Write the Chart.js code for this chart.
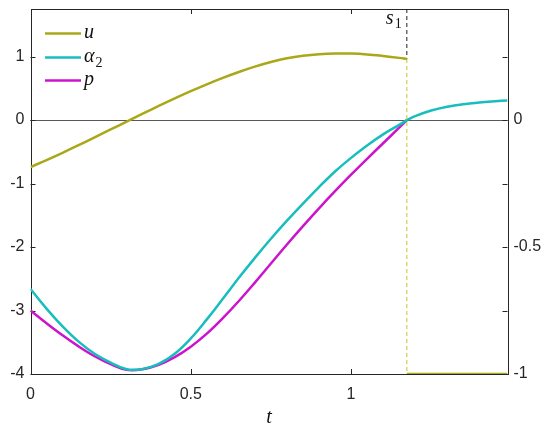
<!DOCTYPE html>
<html>
<head>
<meta charset="utf-8">
<script src="https://cdn.jsdelivr.net/npm/chart.js@4"></script>
<style>
  html, body { margin: 0; padding: 0; background: #fff; }
  #wrap { width: 550px; height: 428px; position: relative; }
</style>
</head>
<body>
<div id="wrap"><canvas id="chart"></canvas></div>
<script>
// time grid before the switch point s1
const s1 = 1.174;
const tEnd = 1.488;
const tBefore = [0, 0.05, 0.1, 0.15, 0.2, 0.25, 0.3, 0.35, 0.4, 0.45, 0.5, 0.55, 0.6,
  0.65, 0.7, 0.75, 0.8, 0.85, 0.9, 0.95, 1.0, 1.05, 1.1, 1.15, s1];
const uValues = [-0.74, -0.63, -0.515, -0.395, -0.272, -0.148, -0.023, 0.101, 0.223, 0.342, 0.456, 0.564, 0.665,
  0.758, 0.842, 0.914, 0.973, 1.013, 1.038, 1.05, 1.048, 1.035, 1.01, 0.98, 0.962];
const alphaValues = [-2.66, -2.97, -3.25, -3.49, -3.68, -3.82, -3.925, -3.92, -3.84, -3.68, -3.44, -3.14, -2.815,
  -2.485, -2.17, -1.87, -1.585, -1.315, -1.055, -0.81, -0.595, -0.40, -0.225, -0.075, 0];
const pValues = [-3.00, -3.20, -3.39, -3.565, -3.72, -3.845, -3.935, -3.925, -3.855, -3.735, -3.57, -3.365, -3.12,
  -2.85, -2.56, -2.26, -1.96, -1.67, -1.39, -1.12, -0.86, -0.61, -0.365, -0.12, 0];

// after s1
const tAfter = [s1, 1.2, 1.25, 1.3, 1.35, 1.4, 1.45, tEnd];
const alphaAfter = [0, 0.062, 0.15, 0.21, 0.25, 0.277, 0.297, 0.31];
const uAfterT = [s1, tEnd];
const uAfter = [-4, -4];

// axes
const leftMin = -4, leftMax = 1.75;
const rightMin = -1, rightMax = 0.4375;
const leftTicks = [-4, -3, -2, -1, 0, 1];
const rightTicks = [-1, -0.75, -0.5, -0.25, 0, 0.25];
const rightLabels = [-1, -0.5, 0];
const xTicks = [0, 0.5, 1];

const OLIVE = '#aaa818';
const CYAN = '#18bebe';
const MAGENTA = '#cc14cc';
const DASH_OLIVE = '#c8c42a';

const pts = (xs, ys) => xs.map((x, i) => ({ x, y: ys[i] }));
const uAtS1 = uValues[uValues.length - 1];

const datasets = [
  { label: 'u', data: pts(tBefore, uValues), borderColor: OLIVE, borderWidth: 2.5, tension: 0.4 },
  { label: 'u2', data: pts(uAfterT, uAfter), borderColor: OLIVE, borderWidth: 2.5 },
  { label: 'jump', data: pts([s1, s1], [uAtS1, leftMin]), borderColor: DASH_OLIVE, borderWidth: 1, borderDash: [4, 3] },
  { label: 's1', data: pts([s1, s1], [leftMax, uAtS1]), borderColor: '#222', borderWidth: 1, borderDash: [4, 3] },
  { label: 'alpha', data: pts(tBefore, alphaValues), borderColor: CYAN, borderWidth: 2.5, tension: 0.4 },
  { label: 'alpha2', data: pts(tAfter, alphaAfter), borderColor: CYAN, borderWidth: 2.5, tension: 0.4 },
  { label: 'p', data: pts(tBefore, pValues), borderColor: MAGENTA, borderWidth: 2.5, tension: 0.4 },
].map(d => Object.assign({ pointRadius: 0, fill: false, yAxisID: 'y' }, d));

const SANS = '"Liberation Sans", Arial, sans-serif';
const SERIF = '"Liberation Serif", "Times New Roman", serif';
const AXIS_COLOR = '#262626';

const framePlugin = {
  id: 'frame',
  beforeDatasetsDraw(chart) {
    const { ctx, chartArea: a, scales } = chart;
    ctx.save();
    // zero line
    const y0 = Math.round(scales.y.getPixelForValue(0)) + 0.5;
    ctx.strokeStyle = '#585858';
    ctx.lineWidth = 1.2;
    ctx.beginPath();
    ctx.moveTo(a.left, y0);
    ctx.lineTo(a.right, y0);
    ctx.stroke();
    // box
    ctx.lineWidth = 1;
    ctx.strokeStyle = AXIS_COLOR;
    ctx.strokeRect(Math.round(a.left) + 0.5, Math.round(a.top) + 0.5,
      Math.round(a.right - a.left), Math.round(a.bottom - a.top));
    // inward ticks
    const L = 5;
    ctx.beginPath();
    leftTicks.forEach(v => {
      const y = Math.round(scales.y.getPixelForValue(v)) + 0.5;
      ctx.moveTo(a.left, y); ctx.lineTo(a.left + L, y);
    });
    rightTicks.forEach(v => {
      const y = Math.round(scales.y2.getPixelForValue(v)) + 0.5;
      ctx.moveTo(a.right, y); ctx.lineTo(a.right - L, y);
    });
    xTicks.forEach(v => {
      const x = Math.round(scales.x.getPixelForValue(v)) + 0.5;
      ctx.moveTo(x, a.bottom); ctx.lineTo(x, a.bottom - L);
      ctx.moveTo(x, a.top); ctx.lineTo(x, a.top + L);
    });
    ctx.stroke();
    ctx.restore();
  },
  afterDraw(chart) {
    const { ctx, chartArea: a, scales } = chart;
    ctx.save();
    // legend
    const items = [
      { c: OLIVE, main: 'u', sub: '' },
      { c: CYAN, main: 'α', sub: '2' },
      { c: MAGENTA, main: 'p', sub: '' },
    ];
    const rows = [33.5, 57.5, 80.5];
    items.forEach((it, i) => {
      const y = rows[i];
      ctx.strokeStyle = it.c;
      ctx.lineWidth = 2.5;
      ctx.beginPath();
      ctx.moveTo(45, y); ctx.lineTo(81, y);
      ctx.stroke();
      ctx.fillStyle = '#111';
      ctx.textBaseline = 'alphabetic';
      ctx.textAlign = 'left';
      ctx.font = 'italic 20px ' + SERIF;
      ctx.fillText(it.main, 84, y + 4.5);
      if (it.sub) {
        const w = ctx.measureText(it.main).width;
        ctx.font = '14px ' + SERIF;
        ctx.fillText(it.sub, 84 + w + 1, y + 9);
      }
    });
    // s1 label
    const xs = scales.x.getPixelForValue(s1);
    ctx.fillStyle = '#111';
    ctx.textAlign = 'left';
    ctx.font = 'italic 20px ' + SERIF;
    ctx.fillText('s', xs - 21, 24);
    ctx.font = '14px ' + SERIF;
    ctx.fillText('1', xs - 12, 28);
    // x axis title
    ctx.textAlign = 'center';
    ctx.font = 'italic 20px ' + SERIF;
    ctx.fillText('t', (a.left + a.right) / 2, 423);
    ctx.restore();
  }
};

const noPad = s => { s.paddingTop = 0; s.paddingBottom = 0; s.paddingLeft = 0; s.paddingRight = 0; };

new Chart(document.getElementById('chart'), {
  type: 'line',
  data: { datasets },
  options: {
    responsive: true,
    maintainAspectRatio: false,
    animation: false,
    layout: { padding: { top: 9, left: 0, right: 0, bottom: 0 } },
    plugins: { legend: { display: false }, tooltip: { enabled: false } },
    scales: {
      x: {
        type: 'linear', min: 0, max: tEnd,
        afterBuildTicks: s => { s.ticks = xTicks.map(v => ({ value: v })); },
        afterFit: s => { s.height = 54; noPad(s); },
        grid: { display: false, drawTicks: false },
        border: { display: false },
        ticks: { color: AXIS_COLOR, font: { family: SANS, size: 16 }, padding: 11, maxRotation: 0,
          callback: v => String(v) }
      },
      y: {
        position: 'left', min: leftMin, max: leftMax,
        afterBuildTicks: s => { s.ticks = leftTicks.map(v => ({ value: v })); },
        afterFit: s => { s.width = 30.5; noPad(s); },
        grid: { display: false, drawTicks: false },
        border: { display: false },
        ticks: { color: AXIS_COLOR, font: { family: SANS, size: 16 }, padding: 6, callback: v => String(v) }
      },
      y2: {
        position: 'right', min: rightMin, max: rightMax,
        afterBuildTicks: s => { s.ticks = rightLabels.map(v => ({ value: v })); },
        afterFit: s => { s.width = 42.5; noPad(s); },
        grid: { display: false, drawTicks: false },
        border: { display: false },
        ticks: { color: AXIS_COLOR, font: { family: SANS, size: 16 }, padding: 6, callback: v => String(v) }
      }
    }
  },
  plugins: [framePlugin]
});
</script>
</body>
</html>
